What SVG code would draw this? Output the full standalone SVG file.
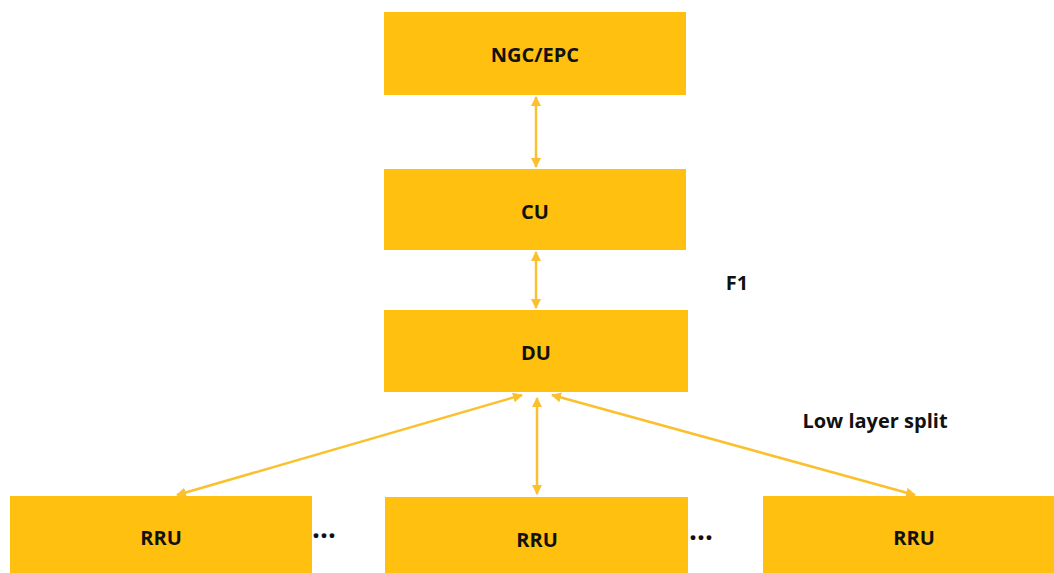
<svg xmlns="http://www.w3.org/2000/svg" width="1054" height="573" viewBox="0 0 1054 573">
<style>
.box{fill:#FFC010;}
.t{font-family:"Open Sans","Noto Sans",sans-serif;font-weight:bold;font-size:20px;fill:#111;text-anchor:middle;dominant-baseline:central;}
.d{font-size:28px;}
.c{stroke:#FBC02D;stroke-width:2.5;fill:none;marker-start:url(#ah);marker-end:url(#ah);}
</style>
<defs>
<marker id="ah" viewBox="0 0 10 10" refX="9" refY="5" markerWidth="4" markerHeight="4" orient="auto-start-reverse">
<path d="M0,0 L10,5 L0,10 z" fill="#FBC02D"/>
</marker>
</defs>
<rect width="1054" height="573" fill="#fff"/>
<g id="ngc"><rect class="box" x="384" y="12" width="302" height="83"/><text class="t" x="535" y="54">NGC/EPC</text></g>
<g id="cu"><rect class="box" x="384" y="169" width="302" height="81"/><text class="t" x="535" y="211">CU</text></g>
<g id="du"><rect class="box" x="384" y="310" width="304" height="82"/><text class="t" x="536" y="352">DU</text></g>
<g id="rru1"><rect class="box" x="10" y="496" width="302" height="77"/><text class="t" x="161" y="537">RRU</text></g>
<g id="rru2"><rect class="box" x="385" y="497" width="303" height="76"/><text class="t" x="537" y="539">RRU</text></g>
<g id="rru3"><rect class="box" x="763" y="496" width="291" height="77"/><text class="t" x="914" y="537">RRU</text></g>
<g id="labels">
<text class="t" x="737" y="282">F1</text>
<text class="t" x="875" y="420">Low layer split</text>
<text class="t d" x="324" y="527">…</text>
<text class="t d" x="701" y="529">…</text>
</g>
<g id="connectors">
<line class="c" x1="536" y1="97" x2="536" y2="167"/>
<line class="c" x1="536" y1="252" x2="536" y2="308"/>
<line class="c" x1="537" y1="398" x2="537" y2="494"/>
<line class="c" x1="522" y1="395" x2="177" y2="495"/>
<line class="c" x1="552" y1="395" x2="915" y2="495"/>
</g>
</svg>
